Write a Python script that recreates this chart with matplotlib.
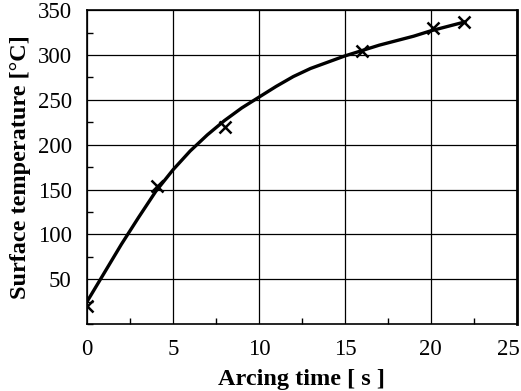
import matplotlib.pyplot as plt
from matplotlib.ticker import MultipleLocator
from matplotlib.transforms import ScaledTranslation

# measured points
time_s = [0.0, 4.1, 8.0, 16.0, 20.1, 21.9]
temp_c = [20, 154, 220, 304, 330, 337]

# fitted curve
curve_t = [0, 1, 2, 3, 4, 5, 6, 7, 8, 9, 10, 11, 12, 13, 14, 15, 16, 17, 18, 19, 20, 21, 22]
curve_y = [25, 57, 89, 119, 148, 172, 193, 211, 227, 241, 253, 265, 276, 285, 292, 299, 305, 311, 316, 321, 327, 332, 337]

x_ticks = [0, 5, 10, 15, 20, 25]
y_ticks = [50, 100, 150, 200, 250, 300, 350]


def main():
    plt.rcParams['font.family'] = 'Liberation Serif'
    fig = plt.figure(figsize=(5.21, 3.91), dpi=100)
    ax = fig.add_axes([0.167, 0.171, 0.825, 0.803])

    ax.grid(True, color='black', linewidth=0.9)
    ax.set_axisbelow(True)

    ax.plot(curve_t, curve_y, color='black', linewidth=2.4, solid_capstyle='round')
    ax.plot(time_s, temp_c, linestyle='none', marker='x', markersize=8,
            markeredgewidth=1.8, color='black')

    ax.set_xlim(0, 25)
    ax.set_ylim(0, 350)
    ax.set_xticks(x_ticks)
    ax.set_yticks(y_ticks)
    ax.xaxis.set_minor_locator(MultipleLocator(2.5))
    ax.yaxis.set_minor_locator(MultipleLocator(25))
    ax.tick_params(which='major', length=0, labelsize=16.5)
    ax.tick_params(axis='y', which='major', pad=11)
    ax.tick_params(axis='x', which='major', pad=11)
    ax.tick_params(which='minor', direction='in', length=4, width=1)

    # last x label sits a bit left so it stays in the picture
    fig.canvas.draw()
    last = ax.get_xticklabels()[-1]
    last.set_transform(last.get_transform() + ScaledTranslation(-6 / 72, 0, fig.dpi_scale_trans))

    for s in ax.spines.values():
        s.set_linewidth(1.2)
    ax.spines['right'].set_linewidth(2)

    ax.set_xlabel('Arcing time [ s ]', fontsize=17.5, fontweight='bold', labelpad=6)
    ax.set_ylabel('Surface temperature [°C]', fontsize=17.5, fontweight='bold', labelpad=5)

    fig.savefig('out.png', dpi=100)
    return 0


if __name__ == '__main__':
    main()
